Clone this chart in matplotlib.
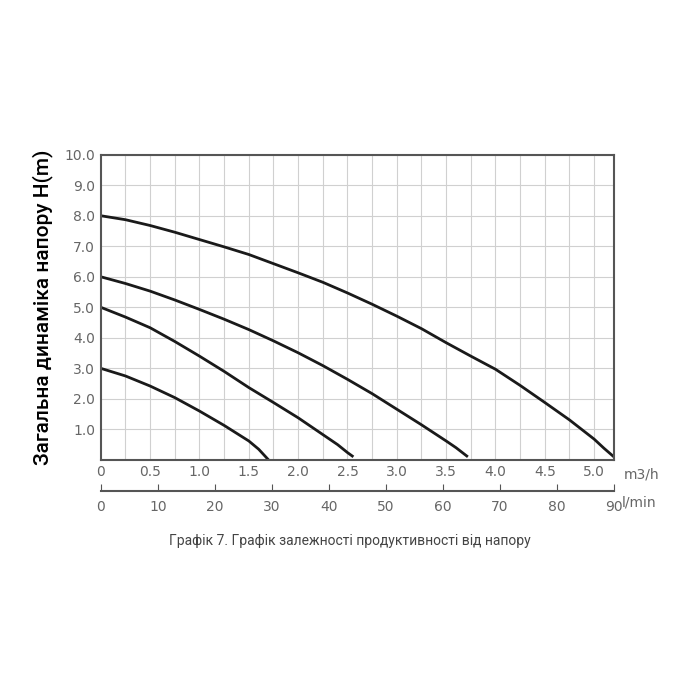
import matplotlib
matplotlib.use("Agg")
import matplotlib.pyplot as plt

# curves: flow (m3/h) vs head (m)
q1 = [0, 0.25, 0.5, 0.75, 1.0, 1.25, 1.5, 1.6, 1.70]
h1 = [3.0, 2.75, 2.42, 2.04, 1.6, 1.13, 0.62, 0.35, 0.0]
q2 = [0, 0.25, 0.5, 0.75, 1.0, 1.25, 1.5, 1.75, 2.0, 2.25, 2.4, 2.5, 2.56]
h2 = [5.0, 4.68, 4.33, 3.88, 3.4, 2.9, 2.37, 1.88, 1.38, 0.83, 0.5, 0.24, 0.1]
q3 = [0, 0.25, 0.5, 0.75, 1.0, 1.25, 1.5, 1.75, 2.0, 2.25, 2.5, 2.75, 3.0, 3.25, 3.5, 3.6, 3.72]
h3 = [6.0, 5.78, 5.53, 5.24, 4.93, 4.61, 4.27, 3.9, 3.51, 3.09, 2.64, 2.17, 1.66, 1.15, 0.62, 0.4, 0.1]
q4 = [0, 0.25, 0.5, 0.75, 1.0, 1.25, 1.5, 1.75, 2.0, 2.25, 2.5, 2.75, 3.0, 3.25, 3.5,
      3.75, 4.0, 4.25, 4.5, 4.75, 5.0, 5.1, 5.2]
h4 = [8.0, 7.87, 7.68, 7.46, 7.22, 6.98, 6.73, 6.43, 6.13, 5.82, 5.47, 5.1, 4.71, 4.3, 3.84,
      3.4, 2.97, 2.44, 1.88, 1.31, 0.68, 0.38, 0.1]

m3h_ticks = [0, 0.5, 1.0, 1.5, 2.0, 2.5, 3.0, 3.5, 4.0, 4.5, 5.0]
m3h_labels = ["0", "0.5", "1.0", "1.5", "2.0", "2.5", "3.0", "3.5", "4.0", "4.5", "5.0"]
lmin_ticks = [0, 10, 20, 30, 40, 50, 60, 70, 80, 90]
h_ticks = [1, 2, 3, 4, 5, 6, 7, 8, 9, 10]

grey = "#666666"
fig = plt.figure(figsize=(7, 7), dpi=100)
ax = fig.add_axes([0.144, 0.343, 0.733, 0.436])

for q, h in [(q1, h1), (q2, h2), (q3, h3), (q4, h4)]:
    ax.plot(q, h, color="#1a1a1a", lw=2, solid_joinstyle="round", solid_capstyle="butt")

ax.set_xlim(0, 5.2)
ax.set_ylim(0, 10)
for x in [i * 0.25 for i in range(1, 21)]:
    ax.axvline(x, color="#d0d0d0", lw=0.8, zorder=0)
for y in h_ticks:
    ax.axhline(y, color="#d0d0d0", lw=0.8, zorder=0)
for s in ax.spines.values():
    s.set_color("#555555")
    s.set_linewidth(1.5)

ax.set_xticks(m3h_ticks)
ax.set_xticklabels(m3h_labels)
ax.set_yticks(h_ticks)
ax.set_yticklabels([f"{v:.1f}" for v in h_ticks])
ax.tick_params(length=0, labelsize=10, labelcolor=grey, pad=4)
ax.text(1.02, -0.025, "m3/h", transform=ax.transAxes, fontsize=10, color=grey,
        va="top")
ax.set_ylabel("Загальна динаміка напору H(m)", fontsize=15, labelpad=8,
              fontfamily="Roboto", fontweight="medium")

# second (l/min) axis
ax2 = fig.add_axes([0.144, 0.298, 0.733, 0.001])
ax2.set_xlim(0, 90)
ax2.set_yticks([])
for side in ["top", "left", "right"]:
    ax2.spines[side].set_visible(False)
ax2.spines["bottom"].set_color("#555555")
ax2.spines["bottom"].set_linewidth(1.5)
ax2.set_xticks(lmin_ticks)
ax2.tick_params(axis="x", direction="in", length=5, color="#555555",
                labelsize=10, labelcolor=grey, pad=6)
ax2.text(1.015, -6, "l/min", transform=ax2.transAxes, fontsize=10, color=grey,
         va="top")

fig.text(0.5, 0.222, "Графік 7. Графік залежності продуктивності від напору",
         ha="center", fontsize=10, color="#444444", fontfamily="Roboto")

fig.savefig("out.png", dpi=100, facecolor="white")
